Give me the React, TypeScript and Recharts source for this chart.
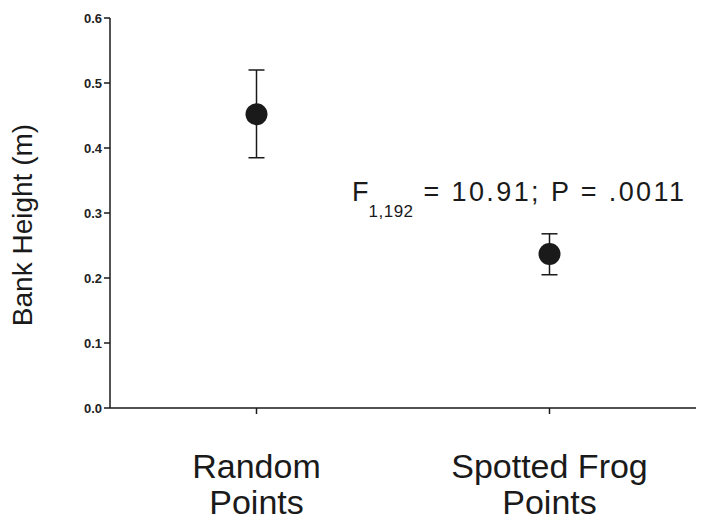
import React from 'react';
import { ComposedChart, Scatter, ErrorBar, XAxis, YAxis } from 'recharts';

// bank height means with error bar ends
const categories = ['Random Points', 'Spotted Frog Points'];
const means = [0.452, 0.237];
const lower = [0.385, 0.205];
const upper = [0.52, 0.268];
const yTicks = [0, 0.1, 0.2, 0.3, 0.4, 0.5, 0.6];

const data = categories.map((c, i) => ({
  name: c,
  height: means[i],
  err: [means[i] - lower[i], upper[i] - means[i]],
}));

const FONT = '"Liberation Sans", Arial, sans-serif';
const INK = '#1a1a1a';

function CategoryTick(props: any) {
  const { x, y, payload } = props;
  const words = String(payload.value).split(' ');
  const last = words.pop();
  const lines = [words.join(' '), last];
  return (
    <g>
      {lines.map((l, i) => (
        <text
          key={i}
          x={x}
          y={y + 62 + i * 36}
          textAnchor="middle"
          fontSize={34}
          fontFamily={FONT}
          fill={INK}
        >
          {l}
        </text>
      ))}
    </g>
  );
}

function Dot(props: any) {
  const { cx, cy } = props;
  return <circle cx={cx} cy={cy} r={11} fill={INK} />;
}

export default function App() {
  return (
    <div style={{ position: 'absolute', left: 0, top: 0, width: 713, height: 523, background: '#fff' }}>
      <ComposedChart
        width={713}
        height={523}
        data={data}
        margin={{ top: 18, right: 17, bottom: 0, left: 20 }}
      >
        <XAxis
          dataKey="name"
          type="category"
          scale="band"
          axisLine={{ stroke: INK, strokeWidth: 1.5 }}
          tickLine={{ stroke: INK, strokeWidth: 1.5 }}
          tickSize={6}
          tick={<CategoryTick />}
          interval={0}
          height={115}
        />
        <YAxis
          type="number"
          domain={[0, 0.6]}
          ticks={yTicks}
          width={90}
          axisLine={{ stroke: INK, strokeWidth: 1.5 }}
          tickLine={{ stroke: INK, strokeWidth: 1.5 }}
          tickSize={6}
          tickMargin={2}
          tickFormatter={(v: number) => v.toFixed(1)}
          tick={{ fontSize: 13, fontWeight: 'bold', fill: '#222', fontFamily: FONT }}
          label={{
            content: (p: any) => {
              const vb = p.viewBox;
              const cx = 25;
              const cy = vb.y + vb.height / 2 + 12;
              return (
                <text
                  x={cx}
                  y={cy}
                  transform={`rotate(-90 ${cx} ${cy})`}
                  textAnchor="middle"
                  dominantBaseline="middle"
                  fontSize={28}
                  fontFamily={FONT}
                  fill={INK}
                >
                  Bank Height (m)
                </text>
              );
            },
          }}
        />
        <Scatter dataKey="height" shape={<Dot />} isAnimationActive={false}>
          <ErrorBar dataKey="err" width={8} stroke={INK} strokeWidth={1.5} direction="y" />
        </Scatter>
      </ComposedChart>
      <svg
        width={713}
        height={523}
        style={{ position: 'absolute', left: 0, top: 0, pointerEvents: 'none' }}
      >
        <text x={352} y={201} fontFamily={FONT} fontSize={27} fill={INK}>
          F
          <tspan fontSize={17} dy={16} letterSpacing={0.5}>
            1,192
          </tspan>
          <tspan dy={-16} letterSpacing={2.4}> = 10.91; P = .0011</tspan>
        </text>
      </svg>
    </div>
  );
}
